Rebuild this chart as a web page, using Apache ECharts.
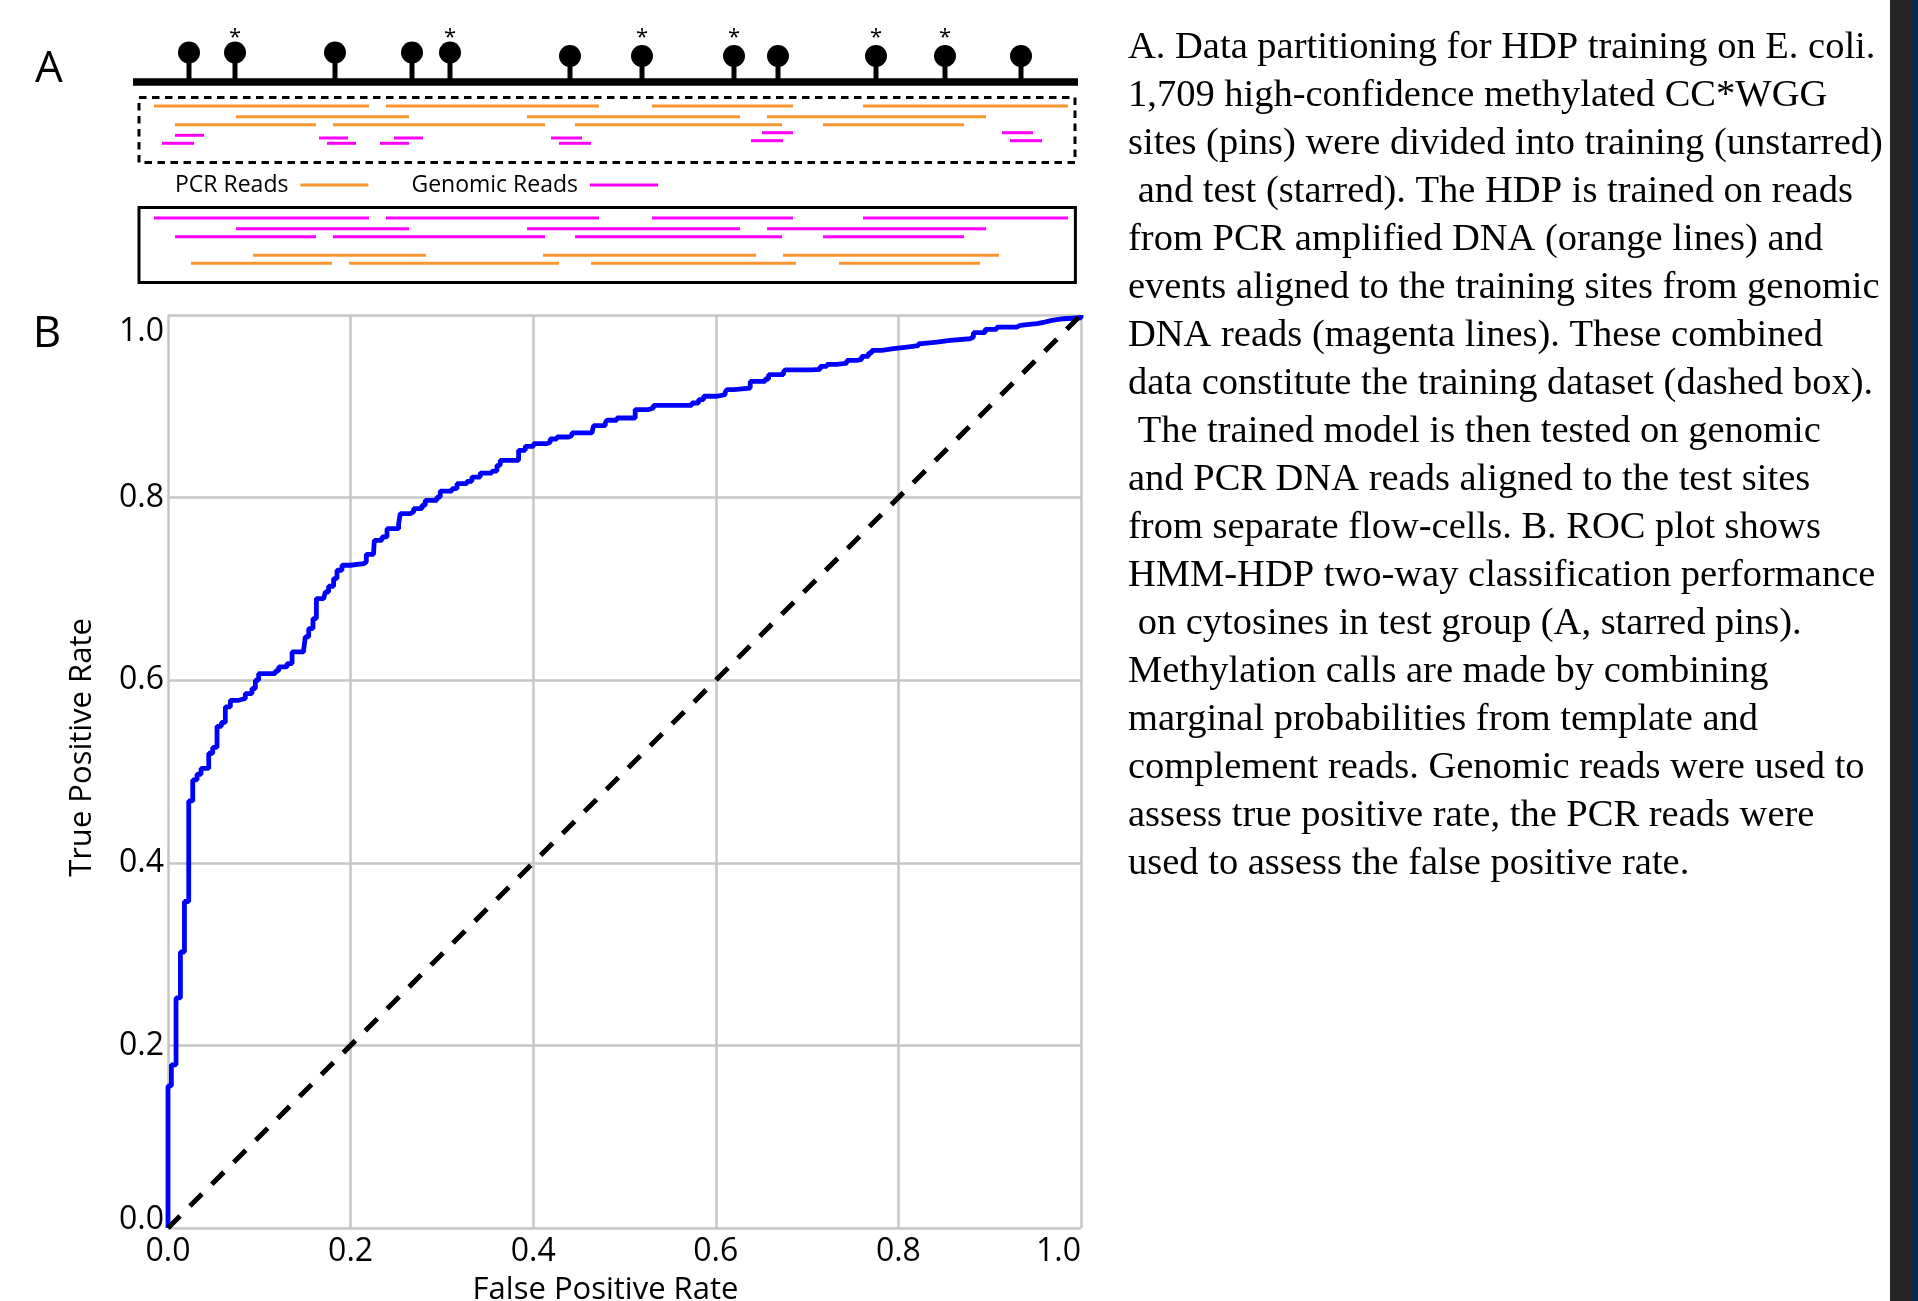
<!DOCTYPE html>
<html>
<head>
<meta charset="utf-8">
<title>HDP training partition and ROC</title>
<script src="https://cdn.jsdelivr.net/npm/echarts@6/dist/echarts.min.js"></script>
<style>
html, body { margin: 0; padding: 0; background: #fff; }
#chart { width: 1918px; height: 1301px; }
</style>
</head>
<body>
<div id="chart"></div>
<script>
// ---- panel B: ROC curve ----
var rocFpr = [0, 0, 0.0037, 0.0037, 0.0088, 0.0088, 0.0136, 0.0136, 0.018, 0.018,
	0.0227, 0.0227, 0.0271, 0.0271, 0.0318, 0.0362, 0.0446, 0.0446, 0.049, 0.0537,
	0.0537, 0.0585, 0.0628, 0.0628, 0.0683, 0.0774, 0.0847, 0.0920, 0.0957, 0.0993,
	0.1176, 0.1212, 0.1304, 0.1359, 0.1486, 0.1504, 0.1541, 0.1588, 0.1625, 0.1705,
	0.1723, 0.1759, 0.1814, 0.1851, 0.1906, 0.1997, 0.2143, 0.2172, 0.2252, 0.2260,
	0.2344, 0.2399, 0.2526, 0.2544, 0.2654, 0.2690, 0.2782, 0.2818, 0.2946, 0.2982,
	0.3110, 0.3165, 0.3274, 0.3329, 0.3420, 0.3548, 0.3603, 0.3639, 0.3840, 0.3840,
	0.3913, 0.4004, 0.4150, 0.4186, 0.4259, 0.4387, 0.4424, 0.4643, 0.4661, 0.4789,
	0.4807, 0.4916, 0.5117, 0.5117, 0.5263, 0.5318, 0.5738, 0.5811, 0.5866, 0.6012,
	0.6103, 0.6121, 0.6194, 0.6377, 0.6377, 0.6541, 0.6578, 0.6741, 0.6759, 0.7052,
	0.7143, 0.7216, 0.7325, 0.7435, 0.7544, 0.7599, 0.7672, 0.7708, 0.7818, 0.7946,
	0.8092, 0.8219, 0.8256, 0.8420, 0.8566, 0.8785, 0.8822, 0.8950, 0.9077, 0.9297,
	0.9333, 0.9516, 0.9607, 0.9680, 0.9808, 1.0];
var rocTpr = [0, 0.1556, 0.1556, 0.1787, 0.1787, 0.252, 0.252, 0.3023, 0.3023, 0.3576,
	0.3576, 0.4678, 0.472, 0.4908, 0.497, 0.5034, 0.5034, 0.520, 0.5264, 0.5264,
	0.5495, 0.5537, 0.556, 0.5707, 0.578, 0.580, 0.5854, 0.5909, 0.600, 0.6073,
	0.6102, 0.6145, 0.6182, 0.631, 0.6336, 0.6474, 0.6565, 0.6675, 0.6894, 0.6912,
	0.6966, 0.7029, 0.7113, 0.7204, 0.7259, 0.7277, 0.7295, 0.7379, 0.7404, 0.7532,
	0.7569, 0.766, 0.7715, 0.7825, 0.7843, 0.7879, 0.7916, 0.797, 0.8006, 0.8072,
	0.8098, 0.8153, 0.8178, 0.8225, 0.8269, 0.8291, 0.8353, 0.8408, 0.8452, 0.8518,
	0.8562, 0.8591, 0.8606, 0.8642, 0.8664, 0.8679, 0.8708, 0.8726, 0.8788, 0.8818,
	0.8847, 0.8872, 0.8872, 0.8964, 0.8982, 0.9011, 0.9036, 0.9073, 0.9110, 0.9128,
	0.9153, 0.9182, 0.9200, 0.9211, 0.9273, 0.9299, 0.9346, 0.9375, 0.9400, 0.9404,
	0.9437, 0.9459, 0.9474, 0.9503, 0.9514, 0.9547, 0.9583, 0.9612, 0.9631, 0.9649,
	0.9664, 0.9686, 0.9704, 0.9722, 0.9740, 0.9759, 0.9806, 0.9843, 0.9868, 0.9886,
	0.9905, 0.9923, 0.9941, 0.9959, 0.9970, 1.0];
var chanceLine = [[0, 0], [1, 1]];

// ---- panel A: schematic of sites and reads (position along genome, lane) ----
var sitePos = [56, 102, 202, 279, 317, 437, 509, 601, 645, 743, 812, 888];
var siteLevel = [52.5, 52.5, 52.5, 52.5, 52.5, 56, 56, 56, 56, 56, 56, 56];
var siteStarred = [0, 1, 0, 0, 1, 0, 1, 1, 0, 1, 1, 0];
var genome = [[0, 945, 82]];

var pcrTrainReads = [
	[21, 236, 106], [253, 466, 106], [519, 660, 106], [730, 935, 106],
	[103, 276, 116.7], [394, 607, 116.7], [634, 853, 116.7],
	[42, 183, 124.7], [200, 412, 124.7], [442, 649, 124.7], [690, 831, 124.7]];
var pcrTestReads = [
	[120, 293, 255.3], [410, 623, 255.3], [650, 866, 255.3],
	[58, 199, 263.3], [216, 426, 263.3], [458, 663, 263.3], [706, 847, 263.3]];
var genomicTrainReads = [
	[629, 660, 132.7], [869, 900, 132.7], [42, 71, 135.3],
	[186, 215, 138], [261, 290, 138], [418, 449, 138],
	[618, 650, 140.7], [877, 909, 140.7],
	[29, 61, 143.3], [194, 223, 143.3], [247, 276, 143.3], [426, 458, 143.3]];
var genomicTestReads = [
	[21, 236, 218], [253, 466, 218], [519, 660, 218], [730, 935, 218],
	[103, 276, 228.7], [394, 607, 228.7], [634, 853, 228.7],
	[42, 183, 236.7], [200, 412, 236.7], [442, 649, 236.7], [690, 831, 236.7]];
// training set (dashed) and test set (solid) boxes: start, top lane, end, bottom lane, dashed
var dataBoxes = [[6, 97.5, 942, 162.5, 1], [6, 207.5, 942.4, 282.5, 0]];

var captionLines = [
	'A. Data partitioning for HDP training on E. coli.',
	'1,709 high-confidence methylated CC*WGG',
	'sites (pins) were divided into training (unstarred)',
	' and test (starred). The HDP is trained on reads',
	'from PCR amplified DNA (orange lines) and',
	'events aligned to the training sites from genomic',
	'DNA reads (magenta lines). These combined',
	'data constitute the training dataset (dashed box).',
	' The trained model is then tested on genomic',
	'and PCR DNA reads aligned to the test sites',
	'from separate flow-cells. B. ROC plot shows',
	'HMM-HDP two-way classification performance',
	' on cytosines in test group (A, starred pins).',
	'Methylation calls are made by combining',
	'marginal probabilities from template and',
	'complement reads. Genomic reads were used to',
	'assess true positive rate, the PCR reads were',
	'used to assess the false positive rate.'];

var ORANGE = '#fb9530';
var MAGENTA = '#ff00ff';
var SANS = '"Open Sans", "Noto Sans", sans-serif';

function renderRead(params, api) {
	var p0 = api.coord([api.value(0), api.value(2)]);
	var p1 = api.coord([api.value(1), api.value(2)]);
	return {
		type: 'line',
		shape: { x1: p0[0], y1: p0[1], x2: p1[0], y2: p1[1] },
		style: { stroke: api.visual('color'), lineWidth: 3 }
	};
}

function renderGenome(params, api) {
	var p0 = api.coord([api.value(0), api.value(2)]);
	var p1 = api.coord([api.value(1), api.value(2)]);
	return {
		type: 'rect',
		shape: { x: p0[0], y: p0[1] - 3.75, width: p1[0] - p0[0], height: 7.5 },
		style: { fill: '#000' }
	};
}

function renderPin(params, api) {
	var head = api.coord([api.value(0), api.value(1)]);
	var foot = api.coord([api.value(0), genome[0][2]]);
	var kids = [
		{ type: 'rect', shape: { x: head[0] - 2.5, y: head[1], width: 5, height: foot[1] - head[1] }, style: { fill: '#000' } },
		{ type: 'circle', shape: { cx: head[0], cy: head[1], r: 11 }, style: { fill: '#000' } }
	];
	if (api.value(2)) {
		var star = api.coord([api.value(0), 38]);
		kids.push({ type: 'text', x: star[0], y: star[1],
			style: { text: '*', fill: '#000', font: '22px ' + SANS, align: 'center', verticalAlign: 'middle' } });
	}
	return { type: 'group', children: kids };
}

function renderBox(params, api) {
	var a = api.coord([api.value(0), api.value(1)]);
	var b = api.coord([api.value(2), api.value(3)]);
	return {
		type: 'rect',
		shape: { x: a[0], y: a[1], width: b[0] - a[0], height: b[1] - a[1] },
		style: { fill: null, stroke: '#000', lineWidth: 3, lineDash: api.value(4) ? [7.5, 5.5] : null }
	};
}

function tickText(v) { return v.toFixed(1); }

var chart = echarts.init(document.getElementById('chart'));

var option = {
	animation: false,
	backgroundColor: '#fff',
	textStyle: { fontFamily: SANS },
	legend: {
		left: 175, top: 173.5, padding: 0,
		align: 'right', icon: 'rect', itemWidth: 68, itemHeight: 3, itemGap: 43,
		selectedMode: false,
		textStyle: { fontSize: 23, color: '#000', fontFamily: SANS, padding: [0, 7, 0, 0] },
		data: ['PCR Reads', 'Genomic Reads']
	},
	grid: [
		{ left: 168, top: 315, width: 913, height: 913, outerBoundsMode: 'none' },
		{ left: 133, top: 0, width: 945, height: 300, outerBoundsMode: 'none' }
	],
	xAxis: [
		{
			type: 'value', gridIndex: 0, min: 0, max: 1, interval: 0.2,
			axisLine: { show: false }, axisTick: { show: false },
			splitLine: { show: true, lineStyle: { color: '#c6c6c6', width: 2.5 } },
			axisLabel: { formatter: tickText, fontSize: 32, color: '#000', margin: 8, alignMaxLabel: 'right' },
			name: 'False Positive Rate', nameLocation: 'middle', nameGap: 47,
			nameTextStyle: { fontSize: 31, color: '#000', padding: [0, 38, 0, 0] }
		},
		{ type: 'value', gridIndex: 1, min: 0, max: 945, show: false }
	],
	yAxis: [
		{
			type: 'value', gridIndex: 0, min: 0, max: 1, interval: 0.2,
			axisLine: { show: false }, axisTick: { show: false },
			splitLine: { show: true, lineStyle: { color: '#c6c6c6', width: 2.5 } },
			axisLabel: { formatter: tickText, fontSize: 32, color: '#000', margin: 4,
				lineHeight: 17, padding: [8, 0, 0, 0],
				verticalAlignMinLabel: 'bottom', verticalAlignMaxLabel: 'top' },
			name: 'True Positive Rate', nameLocation: 'middle', nameGap: 70,
			nameTextStyle: { fontSize: 31, color: '#000', padding: [0, 0, 0, 48] }
		},
		{ type: 'value', gridIndex: 1, min: 0, max: 300, inverse: true, show: false }
	],
	series: [
		{
			name: 'ROC', type: 'line', xAxisIndex: 0, yAxisIndex: 0,
			data: rocFpr.map(function (x, i) { return [x, rocTpr[i]]; }),
			step: 'end', showSymbol: false, clip: true, z: 3,
			lineStyle: { color: '#0000ff', width: 4.8 }
		},
		{
			name: 'Chance', type: 'line', xAxisIndex: 0, yAxisIndex: 0,
			data: chanceLine, showSymbol: false, z: 4,
			lineStyle: { color: '#000', width: 5, type: [17, 14] }
		},
		{
			name: 'Genome', type: 'custom', xAxisIndex: 1, yAxisIndex: 1,
			data: genome, renderItem: renderGenome, encode: { x: [0, 1], y: 2 }
		},
		{
			name: 'Sites', type: 'custom', xAxisIndex: 1, yAxisIndex: 1,
			data: sitePos.map(function (p, i) { return [p, siteLevel[i], siteStarred[i]]; }),
			renderItem: renderPin, encode: { x: 0, y: 1 }
		},
		{
			name: 'Boxes', type: 'custom', xAxisIndex: 1, yAxisIndex: 1,
			data: dataBoxes, renderItem: renderBox, encode: { x: [0, 2], y: [1, 3] }
		},
		{
			name: 'PCR Reads', type: 'custom', xAxisIndex: 1, yAxisIndex: 1,
			itemStyle: { color: ORANGE },
			data: pcrTrainReads.concat(pcrTestReads), renderItem: renderRead, encode: { x: [0, 1], y: 2 }
		},
		{
			name: 'Genomic Reads', type: 'custom', xAxisIndex: 1, yAxisIndex: 1,
			itemStyle: { color: MAGENTA },
			data: genomicTrainReads.concat(genomicTestReads), renderItem: renderRead, encode: { x: [0, 1], y: 2 }
		}
	],
	graphic: [
		{ type: 'text', x: 49, y: 69.5, style: { text: 'A', font: '44px ' + SANS, fill: '#000', align: 'center', verticalAlign: 'middle' } },
		{ type: 'text', x: 47, y: 334, style: { text: 'B', font: '44px ' + SANS, fill: '#000', align: 'center', verticalAlign: 'middle' } },
		{ type: 'text', x: 1128, y: 24, style: { text: captionLines.join('\n'), font: '38.5px "Liberation Serif", serif', lineHeight: 48, fill: '#000' } },
		{ type: 'rect', shape: { x: 1890, y: 0, width: 21, height: 1301 }, style: { fill: '#272525' } },
		{ type: 'rect', shape: { x: 1911, y: 0, width: 7, height: 1301 }, style: { fill: '#0c2a47' } }
	]
};

chart.setOption(option);
</script>
</body>
</html>
